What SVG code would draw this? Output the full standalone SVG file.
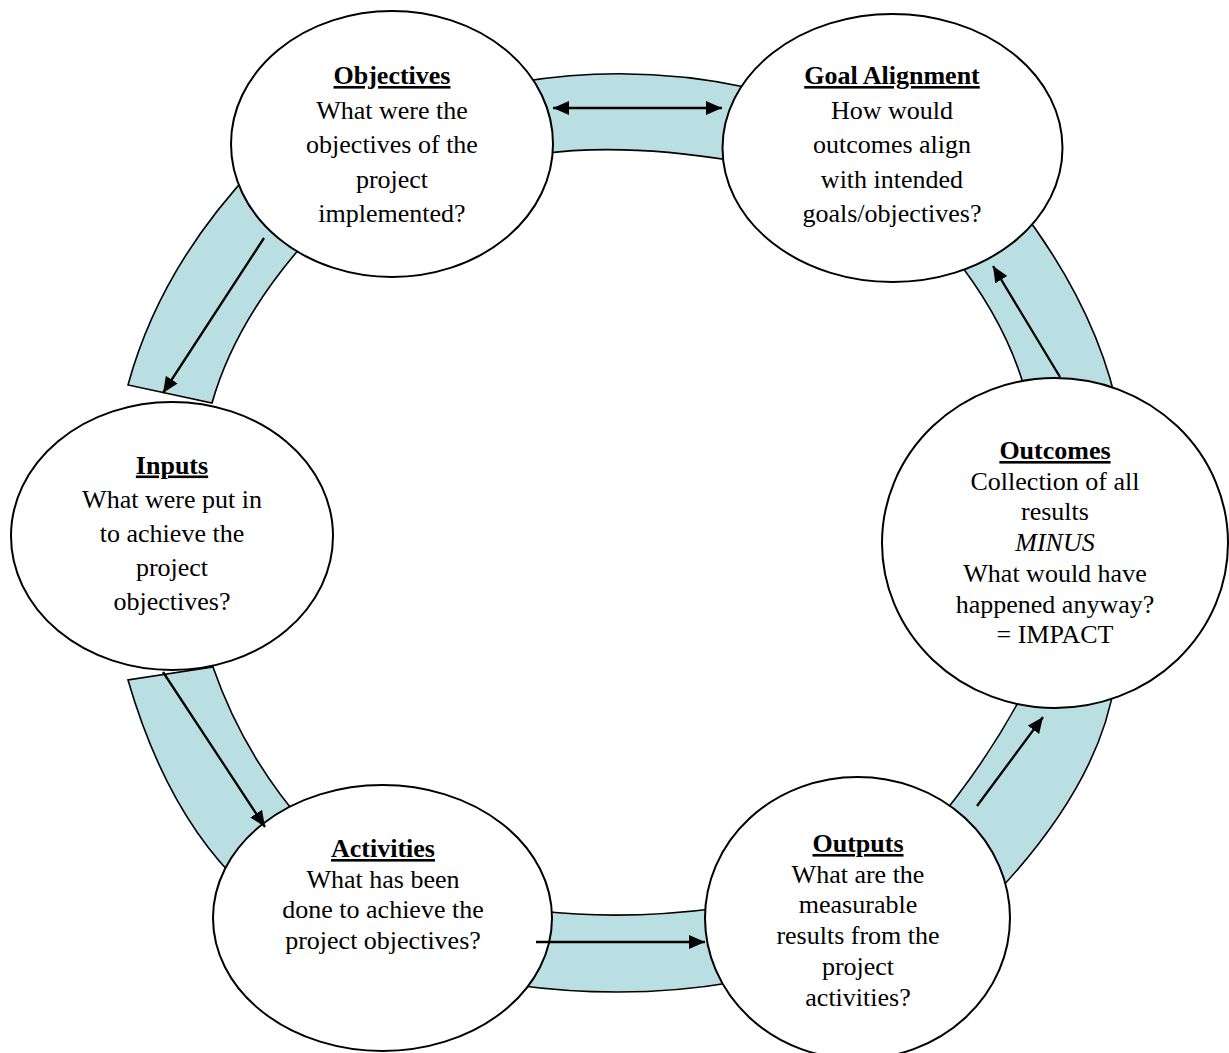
<svg xmlns="http://www.w3.org/2000/svg" width="1229" height="1053" viewBox="0 0 1229 1053">
<defs>
<style>
.band{fill:#B9DFE3;stroke:#000;stroke-width:1.6;stroke-linejoin:miter}
.node{fill:#fff;stroke:#000;stroke-width:2}
.t{font-family:"Liberation Serif","Times New Roman",serif;font-size:26px;fill:#000;text-anchor:middle}
.h{font-weight:bold;text-decoration:underline}
.i{font-style:italic}
.arr{fill:none;stroke:#000;stroke-width:2.3}
</style>
<marker id="ah" markerUnits="userSpaceOnUse" markerWidth="17" markerHeight="15" refX="16" refY="7" orient="auto-start-reverse" viewBox="0 0 17 15">
<path d="M0,0 L16,7 L0,14 Z" fill="#000"/>
</marker>
</defs>
<rect width="1229" height="1053" fill="#fff"/>
<g id="ring">
<path class="band" d="M520,82 Q635,63 750,88 L735,161 Q622.5,142.5 540,154 Z"/>
<path class="band" d="M262,160 Q161,263.5 128,385 L212,403 Q237,314.5 318,228 Z"/>
<path class="band" d="M128,680 Q167.5,816 245,888 L305,825 Q243,754 213,667 Z"/>
<path class="band" d="M540,911 Q624,920.5 720,908 L735,982 Q629,1000.5 515,985 Z"/>
<path class="band" d="M1030,680 Q990,759 930,830 L985,905 Q1100,787.5 1115,680 Z"/>
<path class="band" d="M1010,195 Q1099,306.5 1120,420 L1030,410 Q1012.5,326.5 945,245 Z"/>
</g>
<g id="objectives">
<ellipse class="node" cx="392" cy="144" rx="161" ry="133"/>
<text class="t h" x="392" y="84">Objectives</text>
<text class="t" x="392" y="118.5">What were the</text>
<text class="t" x="392" y="153">objectives of the</text>
<text class="t" x="392" y="187.5">project</text>
<text class="t" x="392" y="222">implemented?</text>
</g>
<g id="goal-alignment">
<ellipse class="node" cx="892.5" cy="148" rx="170" ry="134"/>
<text class="t h" x="892" y="84">Goal Alignment</text>
<text class="t" x="892" y="118.5">How would</text>
<text class="t" x="892" y="153">outcomes align</text>
<text class="t" x="892" y="187.5">with intended</text>
<text class="t" x="892" y="222">goals/objectives?</text>
</g>
<g id="inputs">
<ellipse class="node" cx="172" cy="536" rx="161" ry="134"/>
<text class="t h" x="172" y="473.5">Inputs</text>
<text class="t" x="172" y="507.5">What were put in</text>
<text class="t" x="172" y="541.5">to achieve the</text>
<text class="t" x="172" y="575.5">project</text>
<text class="t" x="172" y="609.5">objectives?</text>
</g>
<g id="outcomes">
<ellipse class="node" cx="1055" cy="543" rx="173" ry="165"/>
<text class="t h" x="1055" y="459">Outcomes</text>
<text class="t" x="1055" y="489.7">Collection of all</text>
<text class="t" x="1055" y="520.4">results</text>
<text class="t i" x="1055" y="551.1">MINUS</text>
<text class="t" x="1055" y="581.8">What would have</text>
<text class="t" x="1055" y="612.5">happened anyway?</text>
<text class="t" x="1055" y="643.2">= IMPACT</text>
</g>
<g id="activities">
<ellipse class="node" cx="382.5" cy="918" rx="169.5" ry="133"/>
<text class="t h" x="383" y="857">Activities</text>
<text class="t" x="383" y="887.5">What has been</text>
<text class="t" x="383" y="918">done to achieve the</text>
<text class="t" x="383" y="948.5">project objectives?</text>
</g>
<g id="outputs">
<ellipse class="node" cx="857.5" cy="918" rx="152.5" ry="141"/>
<text class="t h" x="858" y="852">Outputs</text>
<text class="t" x="858" y="882.7">What are the</text>
<text class="t" x="858" y="913.4">measurable</text>
<text class="t" x="858" y="944.1">results from the</text>
<text class="t" x="858" y="974.8">project</text>
<text class="t" x="858" y="1005.5">activities?</text>
</g>
<g id="connectors">
<line class="arr" x1="553" y1="108" x2="722" y2="108" marker-start="url(#ah)" marker-end="url(#ah)"/>
<line class="arr" x1="264" y1="238" x2="163" y2="393" marker-end="url(#ah)"/>
<line class="arr" x1="163" y1="672" x2="265" y2="827" marker-end="url(#ah)"/>
<line class="arr" x1="536" y1="942" x2="705" y2="942" marker-end="url(#ah)"/>
<line class="arr" x1="977" y1="806" x2="1043" y2="717" marker-end="url(#ah)"/>
<line class="arr" x1="1060" y1="377" x2="993" y2="266" marker-end="url(#ah)"/>
</g>
</svg>
